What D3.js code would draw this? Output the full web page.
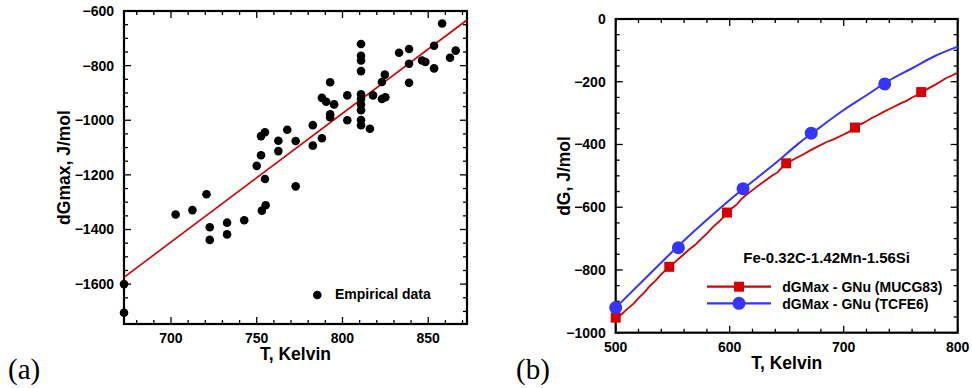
<!DOCTYPE html>
<html><head><meta charset="utf-8">
<script src="https://cdn.jsdelivr.net/npm/d3@7"></script>
<style>
html,body{margin:0;padding:0;background:#fff;}
text{font-family:"Liberation Sans",Arial,sans-serif;font-weight:bold;fill:#000;}
.panel{font-family:"Liberation Serif","Times New Roman",serif;font-weight:normal;}
</style></head>
<body>
<svg id="chart" width="972" height="388"></svg>
<script>
// ---------- Panel (a) data ----------
const empiricalT = [672.6,672.6,702.7,712.5,720.7,722.6,722.6,732.7,732.7,742.7,750,752.5,754.8,752.5,754.8,753,755.2,762.6,762.6,767.8,772.7,772.7,782.7,782.7,788,788,790.5,792.8,795.1,792.8,792.8,802.8,802.8,810.8,810.8,810.8,810.8,810.8,810.8,810.8,810.8,810.8,810.8,816,817.8,823,824.7,823,825,833,838.8,838.8,838.8,846.4,848.3,853.4,853.4,858.1,862.7,866];
const empiricalDG = [-1600,-1705,-1345,-1329,-1271,-1392,-1438,-1375,-1418,-1366,-1167,-1128,-1215,-1058,-1044,-1331,-1311,-1075,-1113,-1035,-1076,-1242,-1018,-1093,-1066,-918,-932,-861,-942,-978,-989,-909,-1000,-721,-764,-781,-820,-905,-922,-942,-963,-999,-1018,-1031,-909,-860,-833,-922,-916,-753,-739,-793,-863,-781,-787,-727,-810,-646,-771,-745];
const fitT = [672.6, 872.6];
const fitDG = [-1575, -633];
const aXTicks = [700, 750, 800, 850];
const aYTicks = [-600, -800, -1000, -1200, -1400, -1600];

// ---------- Panel (b) data ----------
const mucgT  = [500,505,510,515,520,525,530,535,540,545,547,552,556,560,565,570,575,580,585,590,595,598,602,606,610,614,618,622,627,632,637,642,649,654,660,666,671,677,685,692,700,705,710,715,720,725,730,735,740,745,750,755,760,764,768,774,780,785,790,795,800];
const mucgDG = [-955,-942,-925,-910,-890,-872,-851,-834,-813,-797,-790,-775,-762,-749,-733,-719,-701,-684,-664,-648,-630,-617,-603,-592,-575,-562,-551,-540,-526,-513,-500,-489,-460,-452,-440,-429,-418,-407,-392,-382,-368,-359,-347,-335,-326,-315,-306,-296,-287,-278,-269,-261,-250,-243,-234,-222,-210,-199,-188,-180,-171];
const mucgMarkT  = [500,547,597.6,649.6,709.9,768];
const mucgMarkDG = [-952,-790,-617,-460,-346,-233];
const tcfeT  = [500,520,540,560,580,600,620,640,660,680,700,720,740,760,780,800];
const tcfeDG = [-920,-848,-776,-706,-640,-577,-518,-460,-398,-343,-290,-243,-196,-157,-118,-88];
const tcfeMarkT  = [500,555,611.7,671.5,736];
const tcfeMarkDG = [-920,-729,-541,-364,-207];
const bXTicks = [500, 600, 700, 800];
const bYTicks = [0, -200, -400, -600, -800, -1000];
const seriesNames = ["dGMax - GNu (MUCG83)", "dGMax - GNu (TCFE6)"];
const alloyLabel = "Fe-0.32C-1.42Mn-1.56Si";

const RED = "#d40000", BLUE = "#3535ff";
const svg = d3.select("#chart");

function frame(g, x, y, xMajor, xMinorStep, yMajor, yMinorStep, fmtX, fmtY) {
  const [x0, x1] = x.range(), [y0, y1] = y.range(); // y0 bottom
  const xd = x.domain(), yd = y.domain();
  const minorX = d3.range(Math.ceil(xd[0]/xMinorStep)*xMinorStep, xd[1]+1e-9, xMinorStep);
  const minorY = d3.range(Math.ceil(yd[0]/yMinorStep)*yMinorStep, yd[1]+1e-9, yMinorStep);
  const tk = g.append("g").attr("stroke","#000").attr("stroke-width",1.3);
  minorX.forEach(v => {
    const isMaj = xMajor.some(m => Math.abs(m - v) < 1e-6);
    const L = isMaj ? 7 : 4;
    tk.append("line").attr("x1",x(v)).attr("x2",x(v)).attr("y1",y0).attr("y2",y0-L);
    tk.append("line").attr("x1",x(v)).attr("x2",x(v)).attr("y1",y1).attr("y2",y1+L);
  });
  minorY.forEach(v => {
    const isMaj = yMajor.some(m => Math.abs(m - v) < 1e-6);
    const L = isMaj ? 7 : 4;
    tk.append("line").attr("y1",y(v)).attr("y2",y(v)).attr("x1",x0).attr("x2",x0+L);
    tk.append("line").attr("y1",y(v)).attr("y2",y(v)).attr("x1",x1).attr("x2",x1-L);
  });
  g.append("rect").attr("x",x0).attr("y",y1).attr("width",x1-x0).attr("height",y0-y1)
    .attr("fill","none").attr("stroke","#000").attr("stroke-width",2.2);
  xMajor.forEach(v => g.append("text").attr("x",x(v)).attr("y",y0+19)
    .attr("text-anchor","middle").style("font-size","14px").text(fmtX(v)));
  yMajor.forEach(v => g.append("text").attr("x",x0-10).attr("y",y(v)+5)
    .attr("text-anchor","end").style("font-size","14px").text(fmtY(v)));
}

// ---------- Panel (a) ----------
{
  const g = svg.append("g");
  const x = d3.scaleLinear().domain([672.6, 872.6]).range([124, 467]);
  const y = d3.scaleLinear().domain([-1746, -600]).range([324, 11]);
  frame(g, x, y, aXTicks, 10, aYTicks, 50, d3.format("d"), d3.format("d"));
  g.append("line").attr("x1",x(fitT[0])).attr("y1",y(fitDG[0]))
    .attr("x2",x(fitT[1])).attr("y2",y(fitDG[1]))
    .attr("stroke",RED).attr("stroke-width",1.6);
  g.append("g").selectAll("circle").data(empiricalT).join("circle")
    .attr("cx",(d)=>x(d)).attr("cy",(d,i)=>y(empiricalDG[i])).attr("r",4.3).attr("fill","#000");
  g.append("circle").attr("cx",317.3).attr("cy",295).attr("r",4.3).attr("fill","#000");
  g.append("text").attr("x",335).attr("y",299).style("font-size","14px").text("Empirical data");
  g.append("text").attr("x",295.5).attr("y",360).attr("text-anchor","middle").style("font-size","17.5px").text("T, Kelvin");
  g.append("text").attr("transform","translate(70,167.5) rotate(-90)").attr("text-anchor","middle").style("font-size","17.5px").text("dGmax, J/mol");
  g.append("text").attr("class","panel").attr("x",8).attr("y",379).style("font-size","29px").text("(a)");
}

// ---------- Panel (b) ----------
{
  const g = svg.append("g");
  const x = d3.scaleLinear().domain([500, 800]).range([615.7, 957.7]);
  const y = d3.scaleLinear().domain([-1000, 0]).range([332.7, 19]);
  frame(g, x, y, bXTicks, 20, bYTicks, 50, d3.format("d"), d3.format("d"));
  g.append("path").datum(tcfeT.map((t,i)=>[t,tcfeDG[i]]))
    .attr("d", d3.line().x(d=>x(d[0])).y(d=>y(d[1])).curve(d3.curveMonotoneX))
    .attr("fill","none").attr("stroke",BLUE).attr("stroke-width",2);
  g.append("path").datum(mucgT.map((t,i)=>[t,mucgDG[i]]))
    .attr("d", d3.line().x(d=>x(d[0])).y(d=>y(d[1])))
    .attr("fill","none").attr("stroke",RED).attr("stroke-width",1.8);
  const sq = 10;
  g.append("g").selectAll("rect").data(mucgMarkT).join("rect")
    .attr("x",d=>x(d)-sq/2).attr("y",(d,i)=>y(mucgMarkDG[i])-sq/2).attr("width",sq).attr("height",sq).attr("fill",RED);
  g.append("g").selectAll("circle").data(tcfeMarkT).join("circle")
    .attr("cx",d=>x(d)).attr("cy",(d,i)=>y(tcfeMarkDG[i])).attr("r",6.5).attr("fill",BLUE);
  // legend
  g.append("text").attr("x",743.3).attr("y",262.8).style("font-size","15px").text(alloyLabel);
  g.append("line").attr("x1",707).attr("x2",771).attr("y1",286.7).attr("y2",286.7).attr("stroke",RED).attr("stroke-width",2.2);
  g.append("rect").attr("x",739-sq/2).attr("y",286.7-sq/2).attr("width",sq).attr("height",sq).attr("fill",RED);
  g.append("line").attr("x1",707).attr("x2",771).attr("y1",303.3).attr("y2",303.3).attr("stroke",BLUE).attr("stroke-width",2.2);
  g.append("circle").attr("cx",739).attr("cy",303.3).attr("r",6.5).attr("fill",BLUE);
  g.append("text").attr("x",782.3).attr("y",291.6).style("font-size","14px").text(seriesNames[0]);
  g.append("text").attr("x",782.3).attr("y",308.5).style("font-size","14px").text(seriesNames[1]);
  g.append("text").attr("x",786.7).attr("y",369).attr("text-anchor","middle").style("font-size","17.5px").text("T, Kelvin");
  g.append("text").attr("transform","translate(570,176) rotate(-90)").attr("text-anchor","middle").style("font-size","17.5px").text("dG, J/mol");
  g.append("text").attr("class","panel").attr("x",516).attr("y",379).style("font-size","29px").text("(b)");
}
</script>
</body></html>
